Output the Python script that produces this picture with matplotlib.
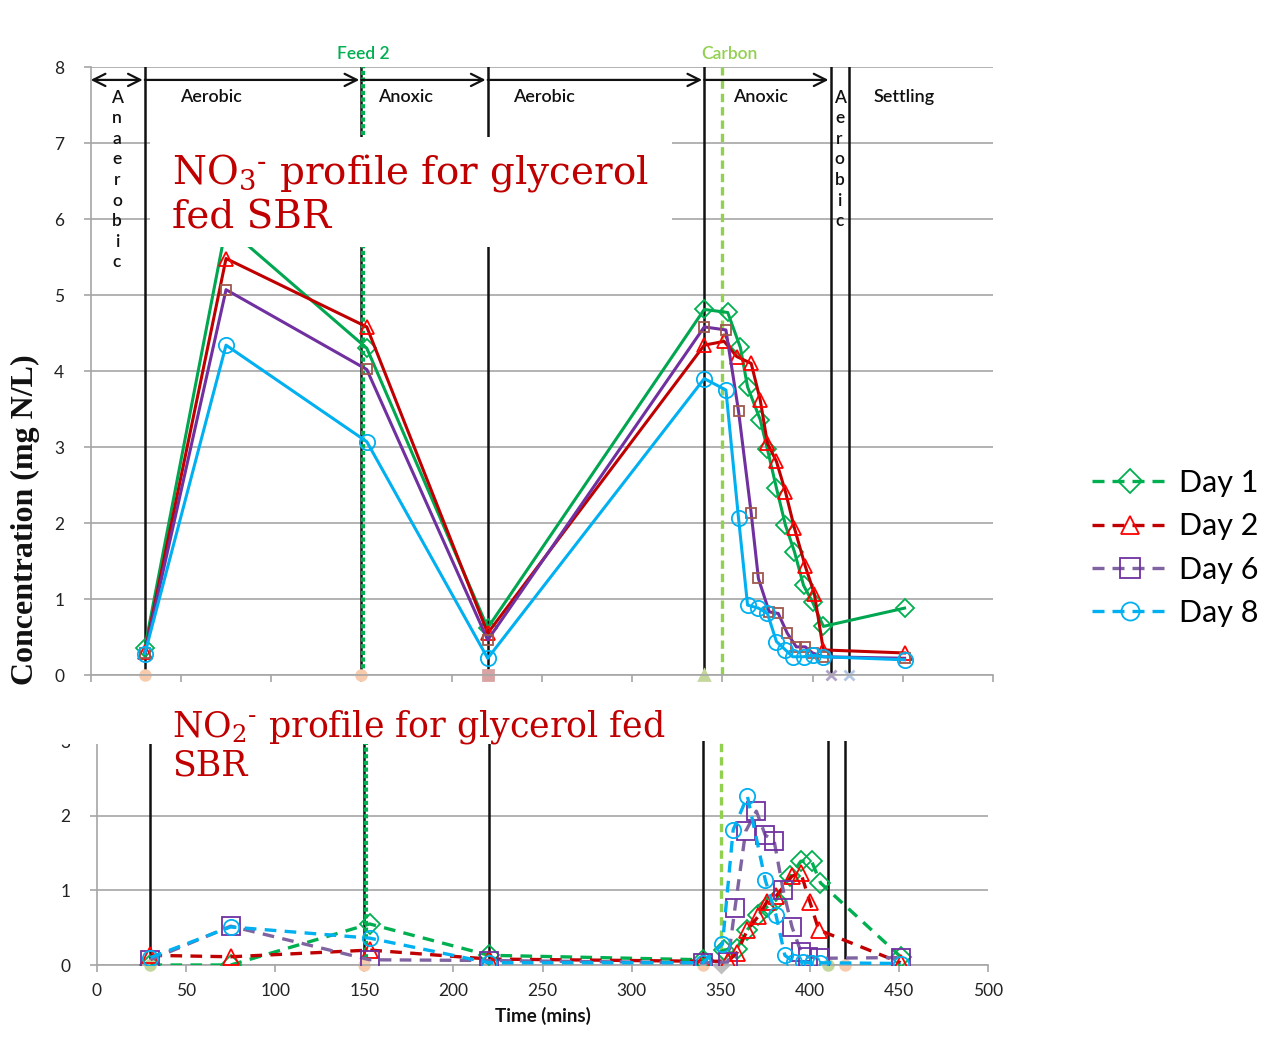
import matplotlib
matplotlib.use('Agg')
import matplotlib.pyplot as plt
from matplotlib.lines import Line2D
from matplotlib.patches import Rectangle

plt.rcParams['font.family'] = ['Lato', 'DejaVu Sans']
plt.rcParams['mathtext.fontset'] = 'dejavuserif'

# ---------------- data ----------------
days = ['Day 1', 'Day 2', 'Day 6', 'Day 8']

# NO3- profile (top panel)
no3_t_day1 = [30, 75, 153, 220, 340, 353, 360, 364, 371, 375, 380, 385, 390, 395, 400, 406, 451]
no3_day1 = [0.36, 5.90, 4.30, 0.62, 4.81, 4.77, 4.31, 3.79, 3.36, 2.97, 2.46, 1.97, 1.62, 1.18, 0.96, 0.64, 0.88]
no3_t_day2 = [30, 75, 153, 220, 340, 351, 358, 366, 371, 375, 380, 385, 390, 396, 401, 406, 451]
no3_day2 = [0.30, 5.48, 4.58, 0.55, 4.34, 4.39, 4.19, 4.10, 3.62, 3.05, 2.81, 2.41, 1.93, 1.43, 1.07, 0.33, 0.29]
no3_t_day6 = [30, 75, 153, 220, 340, 352, 359, 366, 370, 376, 381, 386, 391, 396, 400, 406, 451]
no3_day6 = [0.29, 5.07, 4.02, 0.46, 4.58, 4.54, 3.47, 2.13, 1.27, 0.83, 0.81, 0.55, 0.37, 0.37, 0.29, 0.24, 0.22]
no3_t_day8 = [30, 75, 153, 220, 340, 352, 359, 364, 370, 375, 380, 385, 389, 395, 400, 406, 451]
no3_day8 = [0.28, 4.34, 3.07, 0.22, 3.90, 3.75, 2.06, 0.92, 0.88, 0.81, 0.44, 0.33, 0.24, 0.24, 0.26, 0.24, 0.20]

# NO2- profile (bottom panel)
no2_t_day1 = [30, 75, 153, 220, 340, 352, 359, 365, 371, 376, 381, 389, 395, 401, 406, 451]
no2_day1 = [0.00, 0.00, 0.55, 0.13, 0.07, 0.20, 0.22, 0.47, 0.67, 0.78, 0.87, 1.19, 1.39, 1.39, 1.10, 0.11]
no2_t_day2 = [30, 75, 153, 220, 340, 354, 359, 365, 371, 376, 381, 390, 395, 400, 405, 451]
no2_day2 = [0.13, 0.11, 0.20, 0.08, 0.05, 0.05, 0.16, 0.47, 0.65, 0.85, 0.92, 1.19, 1.23, 0.85, 0.47, 0.03]
no2_t_day6 = [30, 75, 153, 220, 340, 354, 358, 364, 370, 375, 380, 385, 390, 395, 399, 406, 451]
no2_day6 = [0.07, 0.52, 0.07, 0.06, 0.03, 0.04, 0.76, 1.79, 2.06, 1.74, 1.66, 1.01, 0.51, 0.18, 0.11, 0.09, 0.10]
no2_t_day8 = [30, 75, 153, 220, 340, 351, 357, 365, 375, 381, 386, 391, 396, 401, 406, 451]
no2_day8 = [0.10, 0.51, 0.36, 0.03, 0.03, 0.28, 1.81, 2.26, 1.14, 0.67, 0.13, 0.04, 0.04, 0.03, 0.03, 0.02]

# phase boundaries and events (mins)
phase_bounds = [30, 150, 220, 340, 410, 420]
feed2_time = 151
carbon_time = 350
phase_names = ['Anaerobic', 'Aerobic', 'Anoxic', 'Aerobic', 'Anoxic', 'Aerobic', 'Settling']
phase_label_x = [14.5, 49.5, 159, 234, 356, 415, 434]
phase_vertical = [True, False, False, False, False, True, False]
arrow_spans = [(0, 30), (30, 150), (150, 220), (220, 340), (340, 410)]

# zero-level phase markers (Excel helper series)
top_mark_t = [30, 150, 220, 340, 410, 420]
top_mark_m = ['o', 'o', 's', '^', 'x', 'x']
top_mark_c = ['#F8CBAD', '#F8CBAD', '#D9A3A3', '#C4D79B', '#B3A2C7', '#B4C7E7']
bot_mark_t = [30, 150, 340, 350, 410, 420]
bot_mark_m = ['o', 'o', 'o', 'D', 'o', 'o']
bot_mark_c = ['#C4D79B', '#F8CBAD', '#F8CBAD', '#BFBFBF', '#C4D79B', '#F8CBAD']

top_line_colors = ['#00A650', '#C00000', '#7030A0', '#00B0F0']
top_mark_colors = ['#00B050', '#FF0000', '#A0584C', '#00B0F0']
bot_line_colors = ['#00B050', '#C00000', '#8064A2', '#00B0F0']
bot_mark_colors = ['#00B050', '#FF0000', '#7030A0', '#00B0F0']
markers = ['D', '^', 's', 'o']
top_msize = [9, 10, 7, 11]
bot_msize = [10, 11, 13, 11]

# ---------------- figure ----------------
W, H = 1278, 1044
fig = plt.figure(figsize=(W / 100, H / 100), dpi=100)


def fx(px):
    return px / W


def fy(py):
    return 1 - py / H


ax1 = fig.add_axes([fx(90.7), fy(675), (993 - 90.7) / W, (675 - 67) / H])
ax2 = fig.add_axes([fx(97), fy(965), (988 - 97) / W, (965 - 741) / H])

grey = '#A6A6A6'
for ax in (ax1, ax2):
    ax.set_xlim(0, 500)
    ax.set_xticks(range(0, 501, 50))
    for s in ('top', 'right'):
        ax.spines[s].set_visible(False)
    for s in ('left', 'bottom'):
        ax.spines[s].set_color(grey)
        ax.spines[s].set_linewidth(1.2)
    ax.yaxis.grid(True, color=grey, lw=1.2)
    ax.set_axisbelow(True)
    ax.tick_params(axis='x', direction='out', length=5, color=grey, width=1.2, pad=8,
                   labelsize=12.5, labelcolor='#222222')
    ax.tick_params(axis='y', direction='out', length=5, color=grey, width=1.2, pad=14,
                   labelsize=12.5, labelcolor='#222222')

ax1.set_ylim(0, 8)
ax1.set_yticks(range(0, 9))
ax1.tick_params(axis='x', labelbottom=False)
ax2.set_ylim(0, 3)
ax2.set_yticks(range(0, 4))
ax2.get_ygridlines()[-1].set_visible(False)
ax2.set_xlabel('Time (mins)', fontsize=13.5, fontweight='bold', labelpad=6, color='#111111')

# phase lines
for ax in (ax1, ax2):
    for t in phase_bounds:
        ax.axvline(t, color='#111111', lw=1.8, zorder=1.5)
    ax.axvline(feed2_time, color='#00B050', lw=3, ls=(0, (1, 0.6)), zorder=1.6)
    ax.axvline(carbon_time, color='#92D050', lw=2.4, ls=(0, (2.5, 1.5)), zorder=1.6)

# top panel data (solid)
top_series = [(no3_t_day1, no3_day1), (no3_t_day2, no3_day2),
              (no3_t_day6, no3_day6), (no3_t_day8, no3_day8)]
for i, (t, v) in enumerate(top_series):
    ax1.plot(t, v, color=top_line_colors[i], lw=2.2, marker=markers[i],
             ms=top_msize[i], mfc='none', mec=top_mark_colors[i], mew=1.3, zorder=3)

# bottom panel data (dashed)
bot_series = [(no2_t_day1, no2_day1), (no2_t_day2, no2_day2),
              (no2_t_day6, no2_day6), (no2_t_day8, no2_day8)]
for i, (t, v) in enumerate(bot_series):
    ax2.plot(t, v, color=bot_line_colors[i], lw=2.4, ls=(0, (3.5, 2.5)), marker=markers[i],
             ms=bot_msize[i], mfc='none', mec=bot_mark_colors[i], mew=1.3, zorder=3)

# zero-level markers
for t, m, c in zip(top_mark_t, top_mark_m, top_mark_c):
    ax1.plot([t], [0], marker=m, color=c, ms=7, mew=2, clip_on=False, zorder=2)
for t, m, c in zip(bot_mark_t, bot_mark_m, bot_mark_c):
    ax2.plot([t], [0], marker=m, color=c, ms=7, mew=2, clip_on=False, zorder=2)

# arrows
arrow_y = 7.83
for k, (a, b) in enumerate(arrow_spans):
    style = '<->' if k == 0 else '->'
    ax1.annotate('', xy=(b, arrow_y), xytext=(a, arrow_y),
                 arrowprops=dict(arrowstyle=style, lw=1.6, color='#111111',
                                 shrinkA=0, shrinkB=1.5, mutation_scale=22))

# phase labels
for name, x, vert in zip(phase_names, phase_label_x, phase_vertical):
    if vert:
        ax1.text(x, 7.70, '\n'.join(name), ha='center', va='top', fontsize=12.5,
                 linespacing=1.35, color='#111111', fontweight='semibold', zorder=4)
    else:
        ax1.text(x, 7.6, name, ha='left', va='center', fontsize=13, color='#111111',
                 fontweight='semibold', zorder=4)

ax1.text(feed2_time, 8.06, 'Feed 2', ha='center', va='bottom', fontsize=12.5,
         color='#00B050', fontweight='semibold')
ax1.text(carbon_time + 4, 8.06, 'Carbon', ha='center', va='bottom', fontsize=12.5,
         color='#92D050', fontweight='semibold')

# white title boxes
fig.patches.append(Rectangle((fx(150), fy(247)), (672 - 150) / W, (247 - 137) / H,
                             transform=fig.transFigure, facecolor='white', edgecolor='none', zorder=2))
fig.patches.append(Rectangle((fx(55), fy(744)), (670 - 55) / W, (744 - 700) / H,
                             transform=fig.transFigure, facecolor='white', edgecolor='none', zorder=2))

hy = '\u2010'
title_kw = dict(color='#C00000', family='DejaVu Serif', va='baseline', ha='left', zorder=3)
fig.text(fx(172), fy(183), 'NO$_3{}^{' + hy + '}$ profile for glycerol', fontsize=28, **title_kw)
fig.text(fx(172), fy(228), 'fed SBR', fontsize=28, **title_kw)
fig.text(fx(172), fy(737), 'NO$_2{}^{' + hy + '}$ profile for glycerol fed', fontsize=25, **title_kw)
fig.text(fx(172), fy(776), 'SBR', fontsize=25, **title_kw)

# y label
fig.text(fx(25), fy(520), 'Concentration (mg N/L)', rotation=90, ha='center', va='center',
         fontsize=23, fontweight='bold', family='Liberation Serif', color='#111111')

# legend
handles = [Line2D([], [], color=bot_line_colors[i], lw=2.4, ls=(0, (3.6, 2.4)), marker=markers[i],
                  ms=bot_msize[i] + 2, mfc='none', mec=bot_mark_colors[i], mew=1.3)
           for i in range(4)]
fig.legend(handles, days, loc='center left', bbox_to_anchor=(fx(1080), fy(548)),
           frameon=False, fontsize=22, handlelength=2.5, handletextpad=0.35,
           labelspacing=0.5, borderaxespad=0)

fig.savefig('out.png', dpi=100)
